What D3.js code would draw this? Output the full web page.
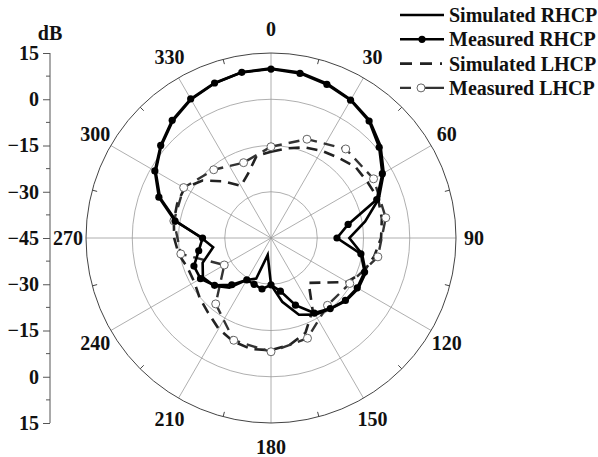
<!DOCTYPE html>
<html>
<head>
<meta charset="utf-8">
<script src="https://cdn.jsdelivr.net/npm/d3@7"></script>
<style>
  body { margin: 0; background: #fff; }
  svg text { font-family: "Liberation Serif", "Times New Roman", serif; font-weight: bold; fill: #111; }
</style>
</head>
<body>
<div id="chart"></div>
<script>
// radiation pattern data, dB vs angle (deg, clockwise from top)
const simRhcpAngles = [0, 10, 20, 30, 40, 50, 60, 70, 80, 90, 100, 110, 120, 130, 140, 150, 160, 170, 180, 191, 200, 210, 220, 230, 240, 250, 261, 270, 280, 290, 300, 310, 320, 330, 340, 350]
const simRhcpDb = [10.0, 9.5, 8.3, 6.8, 4.8, 1.4, -2.8, -7.8, -14.0, -19.6, -15.0, -12.3, -12.3, -13.3, -15.0, -16.3, -18.5, -24.0, -29.8, -39.4, -31.0, -29.3, -24.0, -20.9, -19.5, -21.4, -26.0, -22.5, -13.8, -6.7, -1.8, 1.5, 4.6, 6.9, 8.4, 9.6]

const measRhcpAngles = [0, 10, 20, 30, 40, 50, 60, 70, 80, 90, 100, 110, 120, 130, 140, 150, 160, 170, 180, 190, 200, 210, 220, 230, 240, 250, 260, 270, 280, 290, 300, 310, 320, 330, 340, 350]
const measRhcpDb = [9.8, 9.2, 8.0, 6.6, 4.5, 0.8, -3.3, -8.5, -19.6, -23.6, -15.4, -12.7, -12.7, -13.5, -15.1, -16.9, -21.8, -27.5, -29.8, -28.2, -29.0, -29.3, -25.2, -21.1, -18.6, -18.4, -21.2, -22.8, -13.4, -6.3, -1.5, 1.7, 4.85, 7.1, 8.5, 9.55]

const simLhcpAngles = [0, 10, 20, 30, 40, 50, 60, 70, 80, 90, 100, 110, 120, 130, 140, 150, 160, 170, 180, 190, 200, 210, 220, 230, 240, 250, 260, 270, 280, 290, 300, 310, 320, 330, 340, 350]
const simLhcpDb = [-17.0, -15.5, -13.7, -12.3, -11.0, -9.2, -8.8, -8.0, -8.5, -9.3, -11.0, -13.0, -16.5, -22.5, -26.0, -18.0, -12.3, -9.8, -8.6, -8.4, -9.3, -11.0, -13.3, -14.8, -16.3, -16.3, -14.6, -13.6, -13.0, -12.6, -12.6, -16.0, -21.0, -25.5, -23.0, -18.0]

const measLhcpAngles = [0, 20, 40, 60, 80, 100, 120, 140, 160, 180, 200, 220, 240, 260, 280, 300, 320, 340]
const measLhcpDb = [-15.4, -10.9, -7.3, -6.6, -7.2, -9.8, -15.5, -16.5, -10.4, -8.1, -9.7, -17.1, -27.5, -15.3, -13.0, -12.3, -16.1, -19.0]

const angleTicks = [0, 30, 60, 90, 120, 150, 180, 210, 240, 270, 300, 330]
const ringValues = [-30, -15, 0]
const axisTicks = [15, 0, -15, -30, -45]
const legendLabels = ["Simulated RHCP", "Measured RHCP", "Simulated LHCP", "Measured LHCP"]

const w = 598, h = 457
const cx = 271, cy = 238
const R = 185

const toPts = (angles, vals) => angles.map((a, i) => ({ a: a, v: vals[i] }))

const rScale = d3.scaleLinear().domain([-45, 15]).range([0, R])
const rad = a => a * Math.PI / 180

const svg = d3.select("#chart").append("svg")
  .attr("width", w)
  .attr("height", h)

const g = svg.append("g").attr("transform", `translate(${cx},${cy})`)

// grid rings
g.selectAll("circle.ring")
  .data(ringValues)
  .enter()
  .append("circle")
  .attr("class", "ring")
  .attr("r", d => rScale(d))
  .attr("fill", "none")
  .attr("stroke", "#9a9a9a")
  .attr("stroke-width", 0.8)

// spokes
g.selectAll("line.spoke")
  .data(angleTicks)
  .enter()
  .append("line")
  .attr("x1", 0).attr("y1", 0)
  .attr("x2", d => R * Math.sin(rad(d)))
  .attr("y2", d => -R * Math.cos(rad(d)))
  .attr("stroke", "#9a9a9a")
  .attr("stroke-width", 0.8)

// outer circle
g.append("circle")
  .attr("r", rScale(15))
  .attr("fill", "none")
  .attr("stroke", "#444")
  .attr("stroke-width", 1)

// minor ticks on outer circle
g.selectAll("line.otick")
  .data(angleTicks.map(a => a + 15))
  .enter()
  .append("line")
  .attr("x1", d => R * Math.sin(rad(d)))
  .attr("y1", d => -R * Math.cos(rad(d)))
  .attr("x2", d => (R - 5) * Math.sin(rad(d)))
  .attr("y2", d => -(R - 5) * Math.cos(rad(d)))
  .attr("stroke", "#444")
  .attr("stroke-width", 1)

// angle labels
g.selectAll("text.alab")
  .data(angleTicks)
  .enter()
  .append("text")
  .attr("x", d => 203 * Math.sin(rad(d)))
  .attr("y", d => -209 * Math.cos(rad(d)))
  .attr("text-anchor", "middle")
  .attr("dominant-baseline", "central")
  .style("font-size", "20px")
  .text(d => d)

const line = d3.lineRadial()
  .angle(d => rad(d.a))
  .radius(d => rScale(d.v))
  .curve(d3.curveLinearClosed)

const simL = toPts(simLhcpAngles, simLhcpDb)
const measL = toPts(measLhcpAngles, measLhcpDb)
const simR = toPts(simRhcpAngles, simRhcpDb)
const measR = toPts(measRhcpAngles, measRhcpDb)

g.append("path")
  .attr("d", line(simL))
  .attr("fill", "none")
  .attr("stroke", "#222")
  .attr("stroke-width", 2.6)
  .attr("stroke-dasharray", "11,7")

g.append("path")
  .attr("d", line(measL))
  .attr("fill", "none")
  .attr("stroke", "#333")
  .attr("stroke-width", 2.4)
  .attr("stroke-dasharray", "11,7")

g.selectAll("circle.ml")
  .data(measL)
  .enter()
  .append("circle")
  .attr("cx", d => rScale(d.v) * Math.sin(rad(d.a)))
  .attr("cy", d => -rScale(d.v) * Math.cos(rad(d.a)))
  .attr("r", 4)
  .attr("fill", "#fff")
  .attr("stroke", "#666")
  .attr("stroke-width", 1)

g.append("path")
  .attr("d", line(simR))
  .attr("fill", "none")
  .attr("stroke", "#000")
  .attr("stroke-width", 2.6)

g.append("path")
  .attr("d", line(measR))
  .attr("fill", "none")
  .attr("stroke", "#000")
  .attr("stroke-width", 2.6)

g.selectAll("circle.mr")
  .data(measR)
  .enter()
  .append("circle")
  .attr("cx", d => rScale(d.v) * Math.sin(rad(d.a)))
  .attr("cy", d => -rScale(d.v) * Math.cos(rad(d.a)))
  .attr("r", 3.6)
  .attr("fill", "#000")

// left dB axis, mirrored about the centre
const yTop = d3.scaleLinear().domain([-45, 15]).range([cy, cy - R])
const yBot = d3.scaleLinear().domain([-45, 15]).range([cy, cy + R])
const axX = 50

const axTop = svg.append("g")
  .attr("transform", `translate(${axX},0)`)
  .call(d3.axisLeft(yTop).tickValues(axisTicks).tickSize(7).tickPadding(4))
const axBot = svg.append("g")
  .attr("transform", `translate(${axX},0)`)
  .call(d3.axisLeft(yBot).tickValues(axisTicks.slice(0, 4)).tickSize(7).tickPadding(4))

for (const ax of [axTop, axBot]) {
  ax.select(".domain").attr("stroke", "#555").attr("d", null)
  ax.selectAll(".tick line").attr("stroke", "#555")
  ax.selectAll("text")
    .style("font-size", "20px")
    .style("font-family", '"Liberation Serif", serif')
    .style("font-weight", "bold")
    .attr("fill", "#111")
}
svg.append("line")
  .attr("x1", axX).attr("x2", axX)
  .attr("y1", yTop(15)).attr("y2", yBot(15))
  .attr("stroke", "#555")

const minor = [7.5, -7.5, -22.5, -37.5]
for (const sc of [yTop, yBot]) {
  svg.selectAll(null)
    .data(minor)
    .enter()
    .append("line")
    .attr("x1", axX - 4).attr("x2", axX)
    .attr("y1", d => sc(d)).attr("y2", d => sc(d))
    .attr("stroke", "#555")
}

svg.append("text")
  .attr("x", 50)
  .attr("y", 33)
  .attr("text-anchor", "middle")
  .attr("dominant-baseline", "central")
  .style("font-size", "20px")
  .text("dB")

// legend
const leg = svg.append("g")
const ly = i => 15 + i * 24.3
leg.selectAll("text")
  .data(legendLabels)
  .enter()
  .append("text")
  .attr("x", 449)
  .attr("y", (d, i) => ly(i))
  .attr("dominant-baseline", "central")
  .style("font-size", "20px")
  .text(d => d)

leg.append("line").attr("x1", 400).attr("x2", 444).attr("y1", ly(0)).attr("y2", ly(0))
  .attr("stroke", "#000").attr("stroke-width", 2.6)
leg.append("line").attr("x1", 400).attr("x2", 444).attr("y1", ly(1)).attr("y2", ly(1))
  .attr("stroke", "#000").attr("stroke-width", 2.6)
leg.append("circle").attr("cx", 422).attr("cy", ly(1)).attr("r", 3.6).attr("fill", "#000")
leg.append("line").attr("x1", 400).attr("x2", 444).attr("y1", ly(2)).attr("y2", ly(2))
  .attr("stroke", "#222").attr("stroke-width", 2.6).attr("stroke-dasharray", "12,8,12,8,2,10")
leg.append("line").attr("x1", 400).attr("x2", 444).attr("y1", ly(3)).attr("y2", ly(3))
  .attr("stroke", "#333").attr("stroke-width", 2.4).attr("stroke-dasharray", "11,10,23")
leg.append("circle").attr("cx", 421).attr("cy", ly(3)).attr("r", 4)
  .attr("fill", "#fff").attr("stroke", "#666").attr("stroke-width", 1)
</script>
</body>
</html>
